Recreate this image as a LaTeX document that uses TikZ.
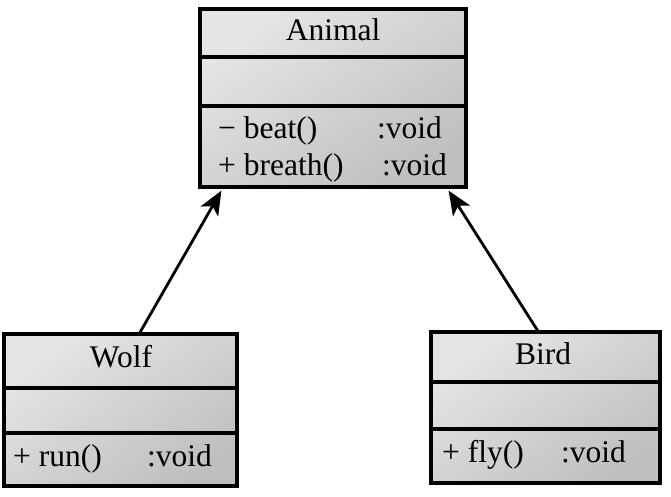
\documentclass[tikz,border=0pt]{standalone}
\usepackage{fontspec}
\setmainfont{Liberation Serif}
\usetikzlibrary{arrows.meta}
\begin{document}
\begin{tikzpicture}[x=1pt,y=-1pt,
  classbox/.style={draw=black, line width=3.2pt, rectangle, inner sep=0pt,
    top color=gray!20, bottom color=gray!50, shading angle=35},
  divider/.style={line width=3.2pt},
  lbl/.style={anchor=base west, inner sep=0pt, font=\fontsize{31.5}{36}\selectfont},
  title/.style={anchor=base, inner sep=0pt, font=\fontsize{31.5}{36}\selectfont},
  inherit/.style={line width=2.8pt, -{Stealth[length=24pt,width=20pt,inset=6pt]}}]
\useasboundingbox (0,0) rectangle (671,496);

% Animal
\node[classbox, minimum width=266pt, minimum height=178pt] (animal) at (333,98) {};
\draw[divider] (animal.west |- 0,57) coordinate (a1) -- (animal.east |- 0,57) coordinate (a2);
\draw[divider] (animal.west |- 0,106) coordinate (a3) -- (animal.east |- 0,106) coordinate (a4);
\node[title] (animalname) at (333,40) {Animal};
\node[lbl] (beat) at (218,138) {− beat()};
\node[lbl] (beatv) at (377,138) {:void};
\node[lbl] (breath) at (218,175) {+ breath()};
\node[lbl] (breathv) at (382,175) {:void};

% Wolf
\node[classbox, minimum width=233pt, minimum height=152pt] (wolf) at (120.5,410) {};
\draw[divider] (wolf.west |- 0,388) coordinate (w1) -- (wolf.east |- 0,388) coordinate (w2);
\draw[divider] (wolf.west |- 0,433) coordinate (w3) -- (wolf.east |- 0,433) coordinate (w4);
\node[title] (wolfname) at (121,367) {Wolf};
\node[lbl] (run) at (13,466) {+ run()};
\node[lbl] (runv) at (147,466) {:void};

% Bird
\node[classbox, minimum width=229pt, minimum height=151pt] (bird) at (545.5,407.5) {};
\draw[divider] (bird.west |- 0,382) coordinate (b1) -- (bird.east |- 0,382) coordinate (b2);
\draw[divider] (bird.west |- 0,429) coordinate (b3) -- (bird.east |- 0,429) coordinate (b4);
\node[title] (birdname) at (543,364) {Bird};
\node[lbl] (fly) at (442,462) {+ fly()};
\node[lbl] (flyv) at (561,462) {:void};

% inheritance
\draw[inherit] ([xshift=19.5pt]wolf.north) -- ([xshift=23pt,yshift=-2pt]animal.south west);
\draw[inherit] ([xshift=-8pt]bird.north) -- ([xshift=-19pt,yshift=-2pt]animal.south east);
\end{tikzpicture}
\end{document}
